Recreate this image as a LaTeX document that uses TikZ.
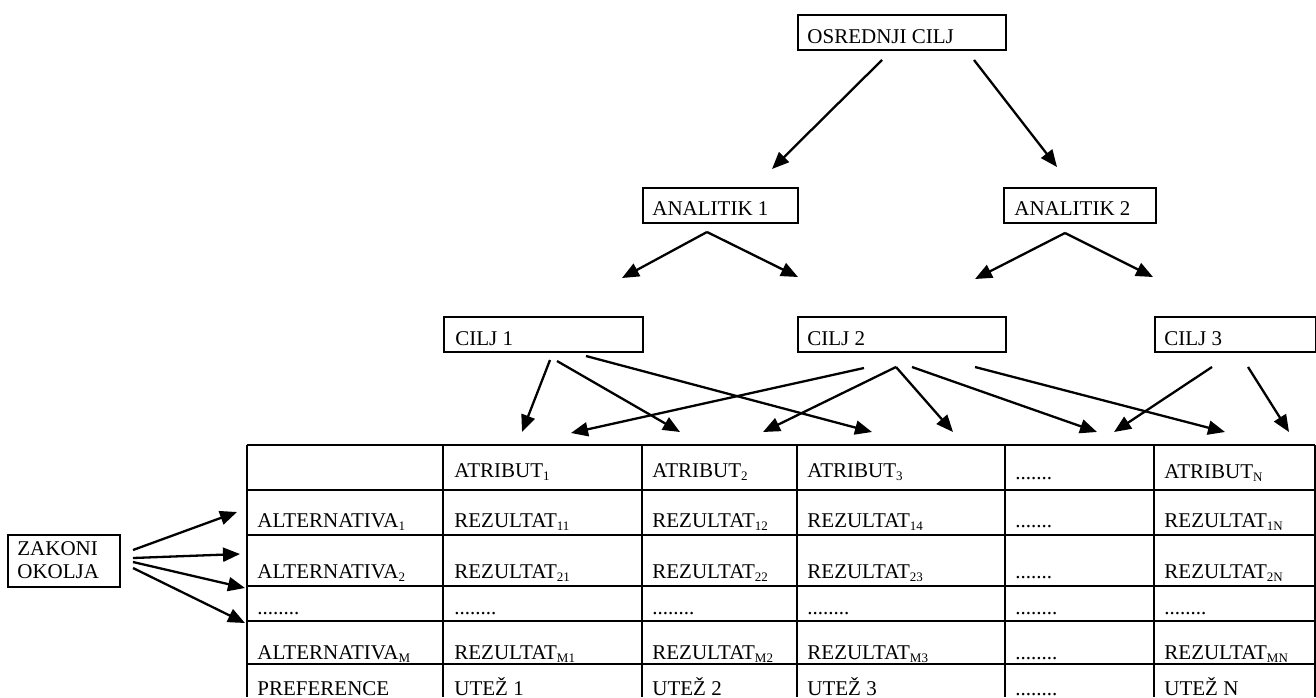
\documentclass[tikz,border=0pt]{standalone}
\usepackage{fontspec}
\setmainfont{Liberation Serif}
\usetikzlibrary{arrows.meta}
\newcommand\mysub[1]{\raisebox{-1.5pt}{\fontsize{6.5}{6.5}\selectfont #1}}
\begin{document}
\begin{tikzpicture}[x=0.5pt,y=-0.5pt,
  box/.style={draw, line width=1.1pt, anchor=north west, inner sep=0pt},
  txt/.style={anchor=base west, inner sep=0pt, font=\fontsize{10.5}{12.6}\selectfont},
  arr/.style={line width=1.15pt, -{Triangle[length=8.5pt,width=7pt]}},
  gridline/.style={line width=1.1pt}]
\useasboundingbox (0,0) rectangle (1316,697);

% ---------- boxes ----------
\node[box, minimum width=104pt, minimum height=17.5pt] (osr) at (797,14) {};
\node[box, minimum width=77.5pt, minimum height=17.5pt] (an1) at (642,187) {};
\node[box, minimum width=76pt, minimum height=17.5pt] (an2) at (1003,187) {};
\node[box, minimum width=99.5pt, minimum height=17.5pt] (c1) at (443,316) {};
\node[box, minimum width=104pt, minimum height=17.5pt] (c2) at (797,316) {};
\node[box, minimum width=80.5pt, minimum height=17.5pt] (c3) at (1154,316) {};
\node[box, minimum width=56pt, minimum height=26pt] (zak) at (7,534) {};

\node[txt] (tosr) at (807,43) {OSREDNJI CILJ};
\node[txt] (tan1) at (652,215) {ANALITIK 1};
\node[txt] (tan2) at (1014,215) {ANALITIK 2};
\node[txt] (tc1) at (455,345) {CILJ 1};
\node[txt] (tc2) at (807,345) {CILJ 2};
\node[txt] (tc3) at (1164,345) {CILJ 3};
\node[txt] (tzak1) at (17,555) {ZAKONI};
\node[txt] (tzak2) at (17,578) {OKOLJA};

% ---------- table grid ----------
\foreach \yy in {445,490,535,586,621,664}
  \draw[gridline] (247,\yy) -- (1315,\yy);
\foreach \xx in {247,443,642,797,1005,1154,1315}
  \draw[gridline] (\xx,445) -- (\xx,697);

% ---------- table text ----------
% header
\node[txt] (h1) at (454,477) {ATRIBUT\mysub{1}};
\node[txt] (h2) at (652,477) {ATRIBUT\mysub{2}};
\node[txt] (h3) at (807,477) {ATRIBUT\mysub{3}};
\node[txt] (h4) at (1015,479) {.......};
\node[txt] (h5) at (1164,478) {ATRIBUT\mysub{N}};
% alternative 1
\node[txt] (a10) at (257,527) {ALTERNATIVA\mysub{1}};
\node[txt] (a11) at (454,527) {REZULTAT\mysub{11}};
\node[txt] (a12) at (652,527) {REZULTAT\mysub{12}};
\node[txt] (a13) at (807,527) {REZULTAT\mysub{14}};
\node[txt] (a14) at (1015,527) {.......};
\node[txt] (a15) at (1164,527) {REZULTAT\mysub{1N}};
% alternative 2
\node[txt] (b0) at (257,578) {ALTERNATIVA\mysub{2}};
\node[txt] (b1) at (454,578) {REZULTAT\mysub{21}};
\node[txt] (b2) at (652,578) {REZULTAT\mysub{22}};
\node[txt] (b3) at (807,578) {REZULTAT\mysub{23}};
\node[txt] (b4) at (1015,578) {.......};
\node[txt] (b5) at (1164,578) {REZULTAT\mysub{2N}};
% dots row
\node[txt] (d0) at (257,614) {........};
\node[txt] (d1) at (454,614) {........};
\node[txt] (d2) at (652,614) {........};
\node[txt] (d3) at (807,614) {........};
\node[txt] (d4) at (1015,614) {........};
\node[txt] (d5) at (1164,614) {........};
% alternative M
\node[txt] (m0) at (257,659) {ALTERNATIVA\mysub{M}};
\node[txt] (m1) at (454,659) {REZULTAT\mysub{M1}};
\node[txt] (m2) at (652,659) {REZULTAT\mysub{M2}};
\node[txt] (m3) at (807,659) {REZULTAT\mysub{M3}};
\node[txt] (m4) at (1015,659) {........};
\node[txt] (m5) at (1164,659) {REZULTAT\mysub{MN}};
% preferences
\node[txt] (p0) at (257,695) {PREFERENCE};
\node[txt] (p1) at (454,695) {UTEŽ 1};
\node[txt] (p2) at (652,695) {UTEŽ 2};
\node[txt] (p3) at (807,695) {UTEŽ 3};
\node[txt] (p4) at (1015,695) {........};
\node[txt] (p5) at (1164,695) {UTEŽ N};

% ---------- arrow coordinates ----------
\coordinate (o1s) at (882,60);  \coordinate (o1e) at (772,169);
\coordinate (o2s) at (974,60);  \coordinate (o2e) at (1057,167);
\coordinate (n1s) at (707,232); \coordinate (n1l) at (622,278); \coordinate (n1r) at (798,277);
\coordinate (n2s) at (1065,233);\coordinate (n2l) at (975,279); \coordinate (n2r) at (1153,277);
\coordinate (k1s) at (550,360); \coordinate (k1e) at (522,432);
\coordinate (k2s) at (557,361); \coordinate (k2e) at (680,432);
\coordinate (k3s) at (586,356); \coordinate (k3e) at (872,432);
\coordinate (k4s) at (864,368); \coordinate (k4e) at (571,433);
\coordinate (k5s) at (896,367); \coordinate (k5l) at (763,432); \coordinate (k5r) at (953,432);
\coordinate (k6s) at (912,367); \coordinate (k6e) at (1097,432);
\coordinate (k7s) at (975,367); \coordinate (k7e) at (1225,432);
\coordinate (k8s) at (1212,367);\coordinate (k8e) at (1114,432);
\coordinate (k9s) at (1248,367);\coordinate (k9e) at (1289,432);
\coordinate (z1s) at (133,550); \coordinate (z1e) at (237,512);
\coordinate (z2s) at (133,558); \coordinate (z2e) at (240,554);
\coordinate (z3s) at (133,562); \coordinate (z3e) at (245,588);
\coordinate (z4s) at (133,568); \coordinate (z4e) at (245,623);

% ---------- arrows ----------
\draw[arr] (o1s) -- (o1e);
\draw[arr] (o2s) -- (o2e);
\draw[arr] (n1s) -- (n1l);
\draw[arr] (n1s) -- (n1r);
\draw[arr] (n2s) -- (n2l);
\draw[arr] (n2s) -- (n2r);
\draw[arr] (k1s) -- (k1e);
\draw[arr] (k2s) -- (k2e);
\draw[arr] (k3s) -- (k3e);
\draw[arr] (k4s) -- (k4e);
\draw[arr] (k5s) -- (k5l);
\draw[arr] (k5s) -- (k5r);
\draw[arr] (k6s) -- (k6e);
\draw[arr] (k7s) -- (k7e);
\draw[arr] (k8s) -- (k8e);
\draw[arr] (k9s) -- (k9e);
\draw[arr] (z1s) -- (z1e);
\draw[arr] (z2s) -- (z2e);
\draw[arr] (z3s) -- (z3e);
\draw[arr] (z4s) -- (z4e);
\end{tikzpicture}
\end{document}
